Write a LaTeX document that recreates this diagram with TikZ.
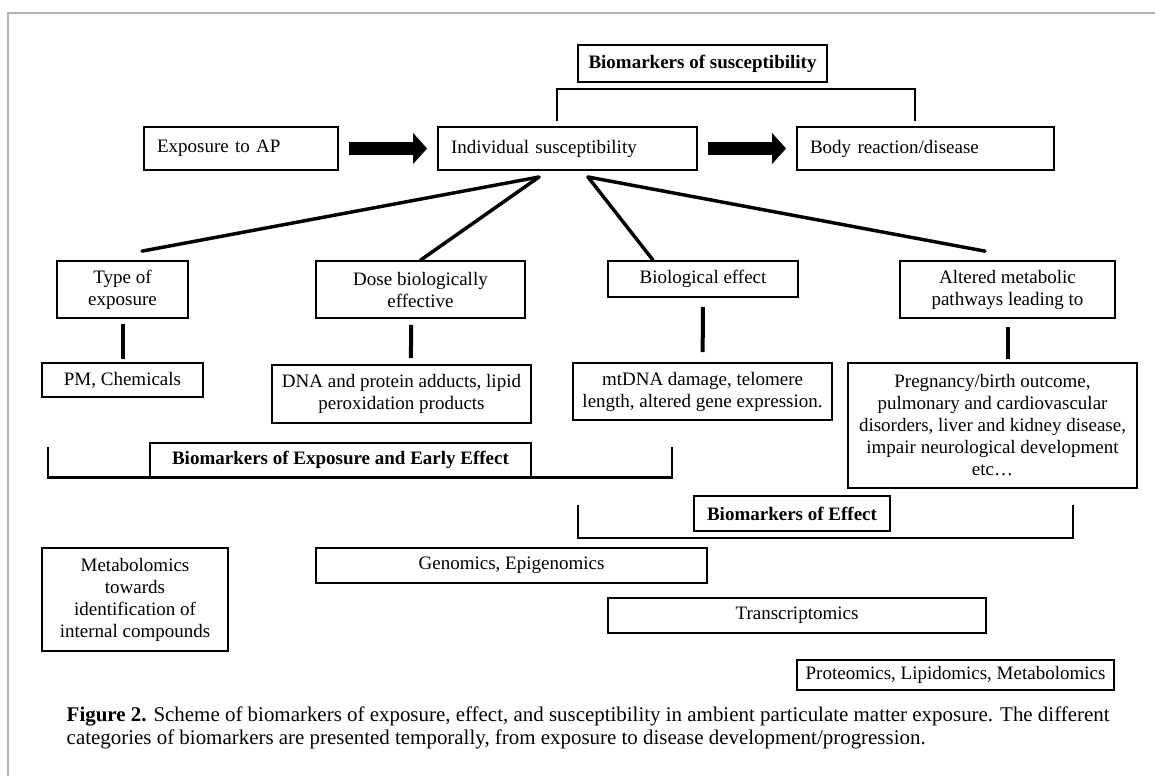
\documentclass[tikz,border=0pt]{standalone}
\usepackage{fontspec}
\setmainfont{Liberation Serif}
\usetikzlibrary{arrows.meta}

\begin{document}
\begin{tikzpicture}[x=0.75pt, y=-0.75pt, font={\fontsize{14.25pt}{16.5pt}\selectfont},
	box/.style 2 args={draw, line width=1.3pt, inner sep=0pt, align=center, minimum width=#1, minimum height=#2},
	lbox/.style={draw, line width=1.3pt, inner ysep=0pt, inner xsep=9.75pt, minimum height=32.25pt, text width=#1, align=left},
	fan/.style={line width=2.6pt, line cap=round},
	stem/.style={line width=3pt},
	bracket/.style={line width=2.2pt},
	bigarrow/.style={line width=9.75pt, -{Triangle[length=10.5pt, width=22.5pt]}, shorten <=7.5pt, shorten >=7.5pt},
	frame/.style={draw=black!30, line width=1.1pt}]
	\useasboundingbox (0,0) rectangle (1155,776);
	%frame
	\draw[frame] (8,776) |- (1155,13);
	%top row
	\node[box={186.75pt}{27.75pt}] (sus) at (702.5,63.5) {\textbf{Biomarkers of susceptibility}};
	\node[lbox=126pt] (exp) at (241,148.5) {Exposure to AP};
	\node[lbox=174.75pt] (ind) at (567.5,148.5) {Individual susceptibility};
	\node[lbox=173.25pt] (body) at (925.5,148.5) {Body reaction/disease};
	\draw[bigarrow] (exp) -- (ind);
	\draw[bigarrow] (ind) -- (body);
	\coordinate (sL) at (557,121);
	\coordinate (sR) at (915,121);
	\draw[bracket] (sL) -- ++(0,-32) -| (sR);
	%second row
	\coordinate (a1) at (539,177);
	\coordinate (a2) at (588,177);
	\node[box={98.25pt}{42.75pt}] (type) at (122.5,289.5) {Type of\\exposure};
	\node[box={156.75pt}{42.75pt}] (dose) at (420.5,289.5) {Dose biologically\\effective};
	\node[box={142.5pt}{27pt}] (bio) at (703,279) {Biological effect};
	\node[box={161.25pt}{42.75pt}] (alt) at (1007.5,289.5) {Altered metabolic\\pathways leading to};
	\draw[fan] (a1) -- ([xshift=14.6pt, yshift=6.75pt]type.north);
	\draw[fan] (a1) -- (dose.north);
	\draw[fan] (a2) -- ([xshift=-37.5pt]bio.north);
	\draw[fan] (a2) -- ([xshift=-16.9pt, yshift=6.75pt]alt.north);
	%third row
	\node[box={120.75pt}{25.5pt}] (pm) at (122.5,380) {PM, Chemicals};
	\node[box={194.25pt}{43.5pt}] (dna) at (401.5,394) {DNA and protein adducts, lipid\\peroxidation products};
	\node[box={194.25pt}{42.75pt}] (mt) at (702.5,391.5) {mtDNA damage, telomere\\length, altered gene expression.};
	\node[box={216.75pt}{93.75pt}] (preg) at (992.5,425.5) {Pregnancy/birth outcome,\\pulmonary and cardiovascular\\disorders, liver and kidney disease,\\impair neurological development\\etc…};
	\draw[stem, shorten <=3.75pt, shorten >=2.25pt] (type) -- (pm);
	\draw[stem, shorten <=4.5pt, shorten >=4.5pt] ([xshift=-7.1pt]dose.south) -- ([xshift=7.1pt]dna.north);
	\draw[stem, shorten <=6.75pt, shorten >=7.5pt] (bio) -- (mt);
	\draw[stem, shorten <=6pt, shorten >=2.25pt] (alt.south) -- (alt.south |- preg.north);
	%brackets
	\node[box={285.75pt}{25.5pt}] (expb) at (340.5,460) {\textbf{Biomarkers of Exposure and Early Effect}};
	\coordinate (eL) at (48,447);
	\coordinate (eR) at (672,447);
	\draw[bracket] (eL) |- (expb.south) -| (eR);
	\node[box={147pt}{26.25pt}] (effb) at (792,513.5) {\textbf{Biomarkers of Effect}};
	\coordinate (fL) at (578,505);
	\coordinate (fR) at (1073,505);
	\draw[bracket] (fL) -- ++(0,33) -| (fR);
	%omics
	\node[box={139.5pt}{77.25pt}] (meta) at (135,599.5) {Metabolomics\\towards\\identification of\\internal compounds};
	\node[box={293.25pt}{26.25pt}] (gen) at (511.5,565.5) {Genomics, Epigenomics};
	\node[box={283.5pt}{26.25pt}] (trans) at (797,615.5) {Transcriptomics};
	\node[box={237.75pt}{22.5pt}] (prot) at (955.5,675) {Proteomics, Lipidomics, Metabolomics};
	%caption
	\node[anchor=north west, align=left, font={\fontsize{15.7pt}{17.25pt}\selectfont}] (cap) at (62,702) {\textbf{Figure 2.} Scheme of biomarkers of exposure, effect, and susceptibility in ambient particulate matter exposure. The different\\categories of biomarkers are presented temporally, from exposure to disease development/progression.};
\end{tikzpicture}
\end{document}
